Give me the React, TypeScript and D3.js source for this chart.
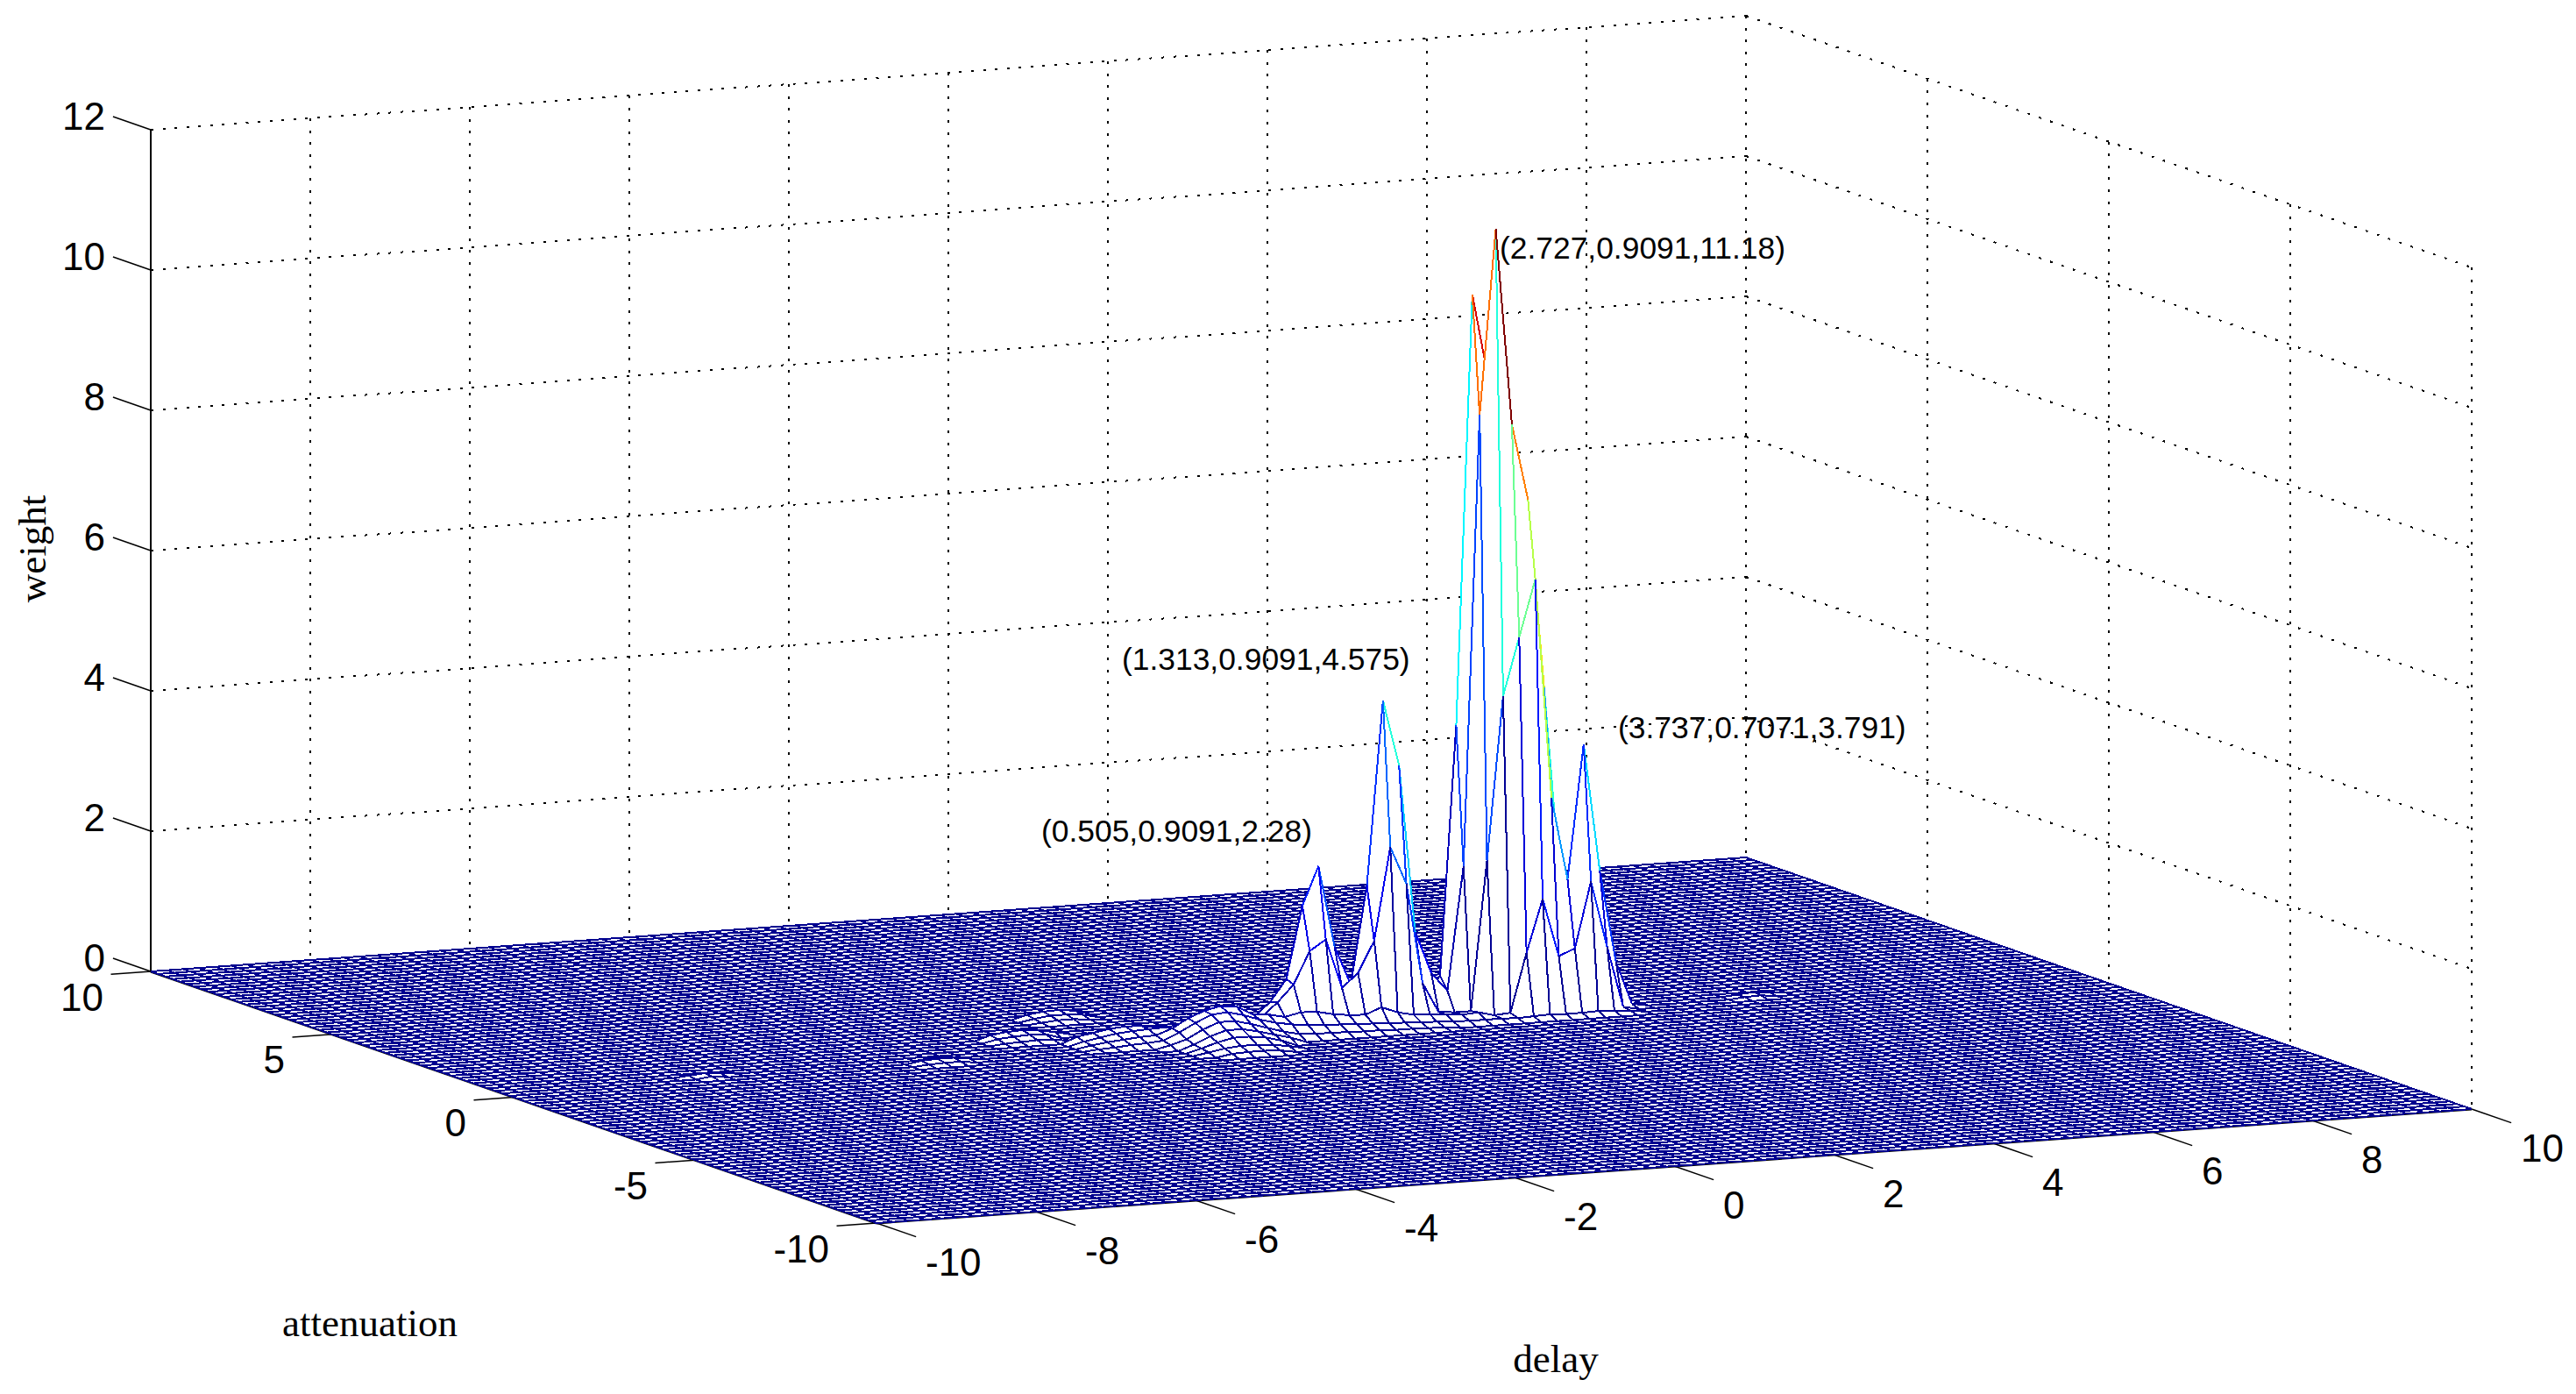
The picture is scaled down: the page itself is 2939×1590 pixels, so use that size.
// App.tsx - mesh of weight over delay / attenuation, drawn with a fixed MATLAB style view
import React, { useEffect, useRef } from 'react';
import * as d3 from 'd3';

const WIDTH = 2939;
const HEIGHT = 1590;
const GRID_SIZE = 100;

const delayTicks = [-10, -8, -6, -4, -2, 0, 2, 4, 6, 8, 10];
const attenuationTicks = [-10, -5, 0, 5, 10];
const weightTicks = [0, 2, 4, 6, 8, 10, 12];

// weights, one list per attenuation row: [delay index, weight]
// everything that is not listed lies on the floor
type Cell = [number, number];
const row46: Cell[] = [[43, .04], [44, .05], [45, .05], [46, .04]];
const row47: Cell[] = [[42, .04], [43, .08], [44, .1], [45, .1], [46, .08], [47, .05]];
const row48: Cell[] = [[42, .06], [43, .13], [44, .18], [45, .18], [46, .15], [47, .09]];
const row49: Cell[] = [[42, .08], [43, .18], [44, .25], [45, .25], [46, .2], [47, .14], [48, .08]];
const row50: Cell[] = [[26, .02], [27, .03], [28, .03], [41, .05], [42, .12], [43, .24], [44, .33], [45, .33], [46, .27], [47, .2], [48, .13], [49, .08], [50, .07], [51, .06], [52, .06], [53, .05], [54, .05], [55, .04], [56, .04], [57, .03], [58, .03]];
const row51: Cell[] = [[13, .03], [26, .04], [27, .05], [28, .05], [29, .02], [37, .02], [38, .03], [39, .05], [40, .06], [41, .08], [42, .18], [43, .3], [44, .4], [45, .42], [46, .36], [47, .28], [48, .22], [49, .18], [50, .15], [51, .14], [52, .13], [53, .12], [54, .11], [55, .1], [56, .09], [57, .08], [58, .07], [59, .06], [60, .05], [61, .05], [62, .05], [63, .04], [64, .05], [65, .06], [66, .05], [67, .05], [68, .06], [69, .05], [70, .03]];
const row52: Cell[] = [[12, .02], [13, .04], [14, .02], [27, .02], [28, .02], [37, .04], [38, .07], [39, .09], [40, .11], [41, .12], [42, .2], [43, .33], [44, .42], [45, .47], [46, .45], [47, .32], [48, .3], [49, .25], [50, .3], [51, .29], [52, .24], [53, .21], [54, .2], [55, .29], [56, .2], [57, .15], [58, .14], [59, .12], [60, .1], [61, .12], [62, .06], [63, .08], [64, .92], [65, 1.67], [66, .84], [67, .93], [68, 1.87], [69, .92], [70, .05]];
const row53: Cell[] = [[37, .06], [38, .1], [39, .14], [40, .16], [41, .17], [42, .18], [43, .2], [44, .22], [45, .25], [46, .25], [47, .22], [48, .23], [49, .42], [50, .66], [51, 1.12], [52, 1.27], [53, .56], [54, .76], [55, 1.2], [56, 2.52], [57, 1.98], [58, .55], [59, .12], [60, .1], [61, .1], [62, 2.23], [63, 4.56], [64, 5.38], [65, 6.19], [66, 3.06], [67, 1.88], [68, 3.791], [69, 1.97], [70, .66], [71, .04], [78, .02], [79, .03]];
const row54: Cell[] = [[37, .09], [38, .13], [39, .17], [40, .19], [41, .18], [42, .15], [43, .14], [44, .13], [45, .12], [46, .1], [47, .15], [48, .2], [49, .39], [50, .7], [51, 1.73], [52, 2.28], [53, 1.11], [54, .56], [55, 1.95], [56, 4.575], [57, 3.63], [58, 1.24], [59, .64], [60, .37], [61, 2.13], [62, 8.55], [63, 11.18], [64, 8.38], [65, 7.29], [66, 4.6], [67, 1.8], [68, 1], [69, .3], [78, .02], [79, .04], [80, .02]];
const row55: Cell[] = [[33, .02], [34, .03], [35, .04], [36, .03], [38, .04], [39, .05], [40, .06], [41, .05], [42, .03], [49, .1], [50, .3], [51, .7], [52, .9], [53, .5], [54, .3], [55, .7], [56, 1.6], [57, 1.2], [58, .5], [59, .2], [60, .55], [61, 4.1], [62, 10.23], [63, 9], [64, 4], [65, 1.5], [66, .5], [67, .2]];
const row56: Cell[] = [[33, .05], [34, .07], [35, .08], [36, .07], [50, .1], [51, .2], [52, .3], [53, .15], [55, .2], [56, .5], [57, .3], [58, .1], [60, .1], [61, .8], [62, 2], [63, 1.8], [64, .8], [65, .3], [66, .1]];
const row57: Cell[] = [[33, .07], [34, .1], [35, .11], [36, .09], [37, .05]];
const row58: Cell[] = [[34, .03], [35, .03], [36, .02]];
const row61: Cell[] = [[38, .02], [39, .04], [40, .04], [41, .02]];
const row62: Cell[] = [[38, .04], [39, .07], [40, .07], [41, .05]];
const row63: Cell[] = [[38, .06], [39, .09], [40, .1], [41, .07]];
const row64: Cell[] = [[39, .02], [40, .02]];

const measuredRows: [number, Cell[]][] = [
  [46, row46], [47, row47], [48, row48], [49, row49], [50, row50], [51, row51], [52, row52], [53, row53],
  [54, row54], [55, row55], [56, row56], [57, row57], [58, row58], [61, row61], [62, row62], [63, row63], [64, row64],
];

// row and delay index of the top of the tallest peak
const TOP_ROW = 54;
const TOP_DELAY = 63;

const tipLabels = ['(2.727,0.9091,11.18)', '(1.313,0.9091,4.575)', '(3.737,0.7071,3.791)', '(0.505,0.9091,2.28)'];
const tipX = [1711, 1280, 1846, 1188];
const tipY = [283, 752, 830, 948];

const MESH_MAX = 11.18;

// the view: each data axis moves the picture by a fixed amount
const delayToPx = d3.scaleLinear().domain([-10, 10]).range([1000, 2820]);
const delayToPy = d3.scaleLinear().domain([-10, 10]).range([1395, 1265]);
const attenToPx = d3.scaleLinear().domain([-10, 10]).range([0, -828]);
const attenToPy = d3.scaleLinear().domain([-10, 10]).range([0, -287]);
const weightToPy = d3.scaleLinear().domain([0, 12]).range([0, -960]);

const project = (x: number, y: number, z: number): [number, number] => [
  delayToPx(x) + attenToPx(y),
  delayToPy(x) + attenToPy(y) + weightToPy(z),
];

// jet colormap
const jet = d3.scaleLinear<string>()
  .domain([0, 0.125, 0.375, 0.625, 0.875, 1])
  .range(['#00008f', '#0000ff', '#00ffff', '#ffff00', '#ff0000', '#800000'])
  .clamp(true);

const segment = (a: [number, number], b: [number, number]) => `M${a[0]},${a[1]}L${b[0]},${b[1]}`;

const App = () => {
  const svgRef = useRef<SVGSVGElement>(null);

  useEffect(() => {
    const svg = d3.select(svgRef.current);
    svg.selectAll('*').remove();

    const samples = d3.range(GRID_SIZE).map(k => -10 + (k * 20) / (GRID_SIZE - 1));
    const heights = d3.range(GRID_SIZE).map(() => new Array(GRID_SIZE).fill(0));
    measuredRows.forEach(([j, cells]) => cells.forEach(([i, z]) => { heights[i][j] = z; }));
    const vertex = (i: number, j: number) => project(samples[i], samples[j], heights[i][j]);
    const edgeColor = (i: number, j: number) => jet(heights[i][j] / MESH_MAX);

    // dotted walls
    const grid = svg.append('g')
      .attr('fill', 'none')
      .attr('stroke', '#000')
      .attr('stroke-width', 2)
      .attr('shape-rendering', 'crispEdges')
      .attr('stroke-dasharray', '3 10.6');
    weightTicks.filter(z => z > 0).forEach(z => {
      grid.append('path').attr('d', segment(project(-10, 10, z), project(10, 10, z)));
      grid.append('path').attr('d', segment(project(10, 10, z), project(10, -10, z)));
    });
    delayTicks.filter(x => x > -10).forEach(x => {
      grid.append('path').attr('d', segment(project(x, 10, 12), project(x, 10, 0)));
    });
    attenuationTicks.filter(y => y < 10).forEach(y => {
      grid.append('path').attr('d', segment(project(10, y, 12), project(10, y, 0)));
    });

    // axis lines and ticks
    const axes = svg.append('g').attr('fill', 'none').attr('stroke', '#000').attr('stroke-width', 1.5);
    axes.append('path').attr('d', segment(project(-10, -10, 0), project(10, -10, 0))).attr('stroke-width', 3);
    axes.append('path').attr('d', segment(project(-10, -10, 0), project(-10, 10, 0))).attr('stroke-width', 3);
    axes.append('path').attr('d', segment(project(-10, 10, 0), project(-10, 10, 12))).attr('stroke-width', 2);
    delayTicks.forEach(x => axes.append('path').attr('d', segment(project(x, -10, 0), project(x, -11.09, 0))));
    attenuationTicks.forEach(y => axes.append('path').attr('d', segment(project(-10, y, 0), project(-10.5, y, 0))));
    weightTicks.forEach(z => axes.append('path').attr('d', segment(project(-10, 10, z), project(-10, 11.04, z))));

    // mesh, back corner first so the front cells hide what is behind them
    const mesh = svg.append('g').attr('shape-rendering', 'crispEdges').attr('stroke-width', 2);
    for (let i = GRID_SIZE - 2; i >= 0; i--) {
      for (let j = GRID_SIZE - 2; j >= 0; j--) {
        const a = vertex(i, j);
        const b = vertex(i + 1, j);
        const c = vertex(i + 1, j + 1);
        const d = vertex(i, j + 1);
        const outline = `M${a[0]},${a[1]}L${b[0]},${b[1]}L${c[0]},${c[1]}L${d[0]},${d[1]}Z`;
        const flat = !heights[i][j] && !heights[i + 1][j] && !heights[i + 1][j + 1] && !heights[i][j + 1];
        if (flat) {
          mesh.append('path').attr('d', outline).attr('fill', '#fff').attr('stroke', jet(0));
        } else {
          mesh.append('path').attr('d', outline).attr('fill', '#fff').attr('stroke', 'none');
          // every edge takes the colour of its lower index end
          mesh.append('path').attr('d', segment(d, c)).attr('fill', 'none').attr('stroke', edgeColor(i, j + 1));
          mesh.append('path').attr('d', segment(b, c)).attr('fill', 'none').attr('stroke', edgeColor(i + 1, j));
          mesh.append('path').attr('d', segment(a, b)).attr('fill', 'none').attr('stroke', edgeColor(i, j));
          mesh.append('path').attr('d', segment(a, d)).attr('fill', 'none').attr('stroke', edgeColor(i, j));
        }
      }
    }

    // the hot edges stay on top at the tip of the tallest peak
    [TOP_DELAY - 1, TOP_DELAY].forEach(i => {
      mesh.append('path')
        .attr('d', segment(vertex(i, TOP_ROW), vertex(i + 1, TOP_ROW)))
        .attr('fill', 'none')
        .attr('stroke', edgeColor(i, TOP_ROW));
    });

    // tick labels
    const labels = svg.append('g')
      .attr('font-family', '"Liberation Sans", Arial, sans-serif')
      .attr('font-size', 44)
      .attr('fill', '#000')
      .attr('dominant-baseline', 'central');
    weightTicks.forEach(z => {
      const [px, py] = project(-10, 10, z);
      labels.append('text').attr('x', px - 52).attr('y', py - 16).attr('text-anchor', 'end').text(z);
    });
    attenuationTicks.forEach(y => {
      const [px, py] = project(-10, y, 0);
      labels.append('text').attr('x', px - 54).attr('y', py + 29).attr('text-anchor', 'end').text(y);
    });
    delayTicks.forEach(x => {
      const [px, py] = project(x, -10, 0);
      labels.append('text').attr('x', px + 56).attr('y', py + 44).text(x);
    });

    // data tips
    const tips = svg.append('g')
      .attr('font-family', '"Liberation Sans", Arial, sans-serif')
      .attr('font-size', 35.4)
      .attr('fill', '#000')
      .attr('dominant-baseline', 'central');
    tipLabels.forEach((label, k) => {
      tips.append('text').attr('x', tipX[k]).attr('y', tipY[k]).text(label);
    });

    // axis titles
    const titles = svg.append('g')
      .attr('font-family', '"Liberation Serif", "Times New Roman", serif')
      .attr('font-size', 45)
      .attr('fill', '#000')
      .attr('text-anchor', 'middle')
      .attr('dominant-baseline', 'central');
    titles.append('text').attr('x', 422).attr('y', 1509).text('attenuation');
    titles.append('text').attr('x', 1775).attr('y', 1550).text('delay');
    titles.append('text').attr('transform', 'translate(37,626) rotate(-90)').text('weight');
  }, []);

  return (
    <svg
      ref={svgRef}
      width={WIDTH}
      height={HEIGHT}
      style={{ position: 'absolute', left: 0, top: 0, background: '#fff' }}
    />
  );
};

export default App;
